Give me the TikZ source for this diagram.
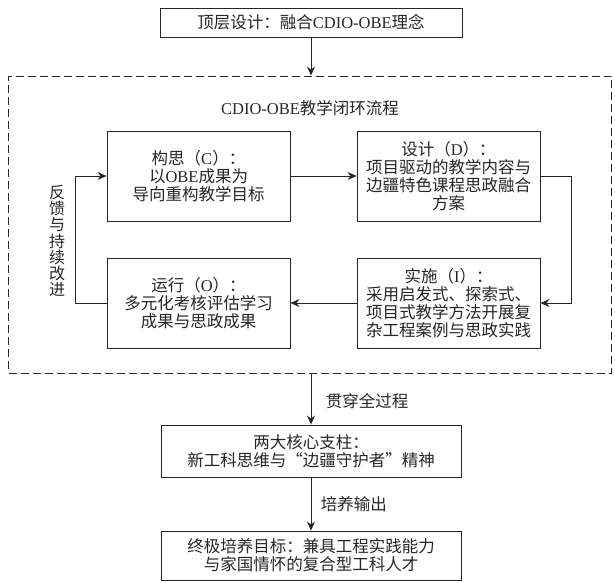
\documentclass[tikz,border=0pt]{standalone}
\usepackage{fontspec}
\setmainfont{Noto Sans CJK SC}
\newfontfamily\latfont{Liberation Serif}
\newcommand{\lat}[1]{{\latfont #1}}
\usetikzlibrary{arrows.meta, positioning}

\tikzset{
    box/.style={draw, align=center, inner sep=2pt},
    stepbox/.style={box, minimum width=183pt, minimum height=90pt},
    frame/.style={draw, dash pattern=on 8pt off 4pt, minimum width=603pt, minimum height=297pt}
}

\begin{document}
\begin{tikzpicture}[x=1pt, y=-1pt, >={Stealth[length=9pt, width=8pt]}, line width=0.9pt, color=black!85, font=\fontsize{16.5}{18}\selectfont]
    \useasboundingbox (0, 0) rectangle (615, 582);

    \node[box, minimum width=302pt, minimum height=29pt] (top) at (311, 22.5) {顶层设计：融合\lat{CDIO-OBE}理念};
    \node[frame] (loop) at (310, 224.5) {};
    \node (title) at (310, 108) {\lat{CDIO-OBE}教学闭环流程};

    \node[stepbox] (c) at (198.5, 176) {构思（\lat{C}）：\\以\lat{OBE}成果为\\导向重构教学目标};
    \node[stepbox] (d) at (448.5, 176) {设计（\lat{D}）：\\项目驱动的教学内容与\\边疆特色课程思政融合\\方案};
    \node[stepbox] (i) at (448.5, 303) {实施（\lat{I}）：\\采用启发式、探索式、\\项目式教学方法开展复\\杂工程案例与思政实践};
    \node[stepbox] (o) at (198.5, 303) {运行（\lat{O}）：\\多元化考核评估学习\\成果与思政成果};
    \node[align=center, font=\fontsize{16}{16.2}\selectfont] (fb) at (57, 241) {反\\馈\\与\\持\\续\\改\\进};

    \node[box, minimum width=300pt, minimum height=52pt] (core) at (311, 451) {两大核心支柱：\\新工科思维与“边疆守护者”精神};
    \node[box, minimum width=300pt, minimum height=49pt] (goal) at (311, 555.5) {终极培养目标：兼具工程实践能力\\与家国情怀的复合型工科人才};

    \draw
    (top.south) edge[->] (top.south |- loop.north)
    (c) edge[->] (d)
    (i) edge[->] (o)
    (core.north |- loop.south) edge[->] node[right=11pt, pos=0.55]{贯穿全过程} (core.north)
    (core) edge[->] node[right=6pt]{培养输出} (goal);

    % loop back and round the corner
    \draw[->] (d.east) -- ++(31, 0) |- (i.east);
    \draw[->] (o.west) -- ++(-31, 0) |- (c.west);
\end{tikzpicture}
\end{document}
